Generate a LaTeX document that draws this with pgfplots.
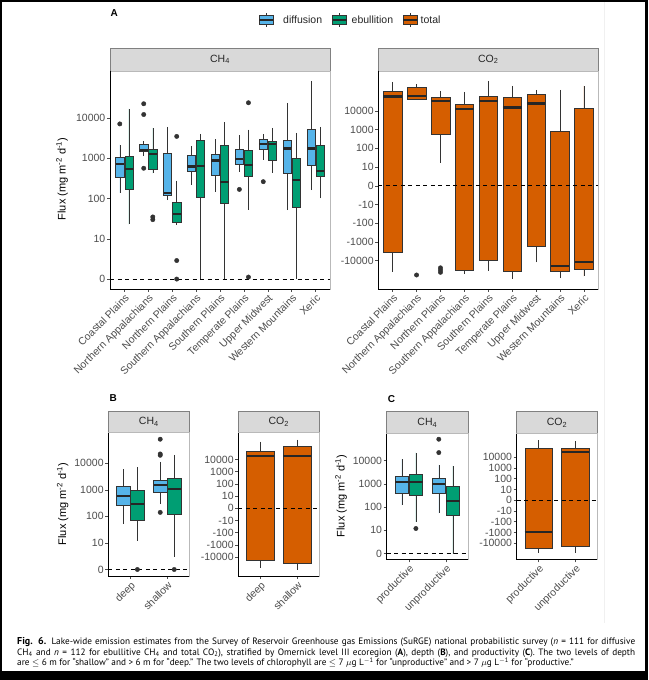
\documentclass[border=0pt]{standalone}
\usepackage{pgfplots}
\pgfplotsset{compat=1.18}
\usepgfplotslibrary{statistics}
\usepackage{fontspec}
\setmainfont{Liberation Sans}
\newfontfamily\capfont[Ligatures=TeX]{PT Sans}

\definecolor{diffc}{HTML}{56B4E9}
\definecolor{ebuc}{HTML}{009E73}
\definecolor{totc}{HTML}{D55E00}
\definecolor{tickc}{HTML}{4D4D4D}
\definecolor{boxc}{HTML}{333333}
\definecolor{stripf}{HTML}{D9D9D9}
\definecolor{stripd}{HTML}{808080}

\pgfplotsset{
  panel/.style={scale only axis, anchor=south west, axis line style={draw=none},
    tick align=outside, tick pos=left, major tick length=3pt,
    tick style={draw=tickc, line width=0.5pt},
    ticklabel style={font=\fontsize{10.5}{12}\selectfont, text=tickc},
    yticklabel style={inner sep=1.5pt},
    xticklabel style={rotate=45, anchor=north east, inner sep=1pt},
    clip=false},
  ch4y/.style={ytick={0,1,2,3,4}, yticklabels={0,10,100,1000,10000}},
  co2y/.style={ytick={-4,...,4},
    yticklabels={-10000,-1000,-100,-10,0,10,100,1000,10000}},
  bxs/.style={draw=boxc, fill=#1, line width=0.55pt, boxplot/draw direction=y,
    boxplot/whisker extend=0},
  outl/.style={only marks, mark=*, mark size=2.2pt, boxc},
  zero/.style={black, line width=0.8pt, dash pattern=on 4pt off 3.5pt}
}
% colour, position, width, lower whisker, q1, median, q3, upper whisker
\newcommand{\bx}[8]{\addplot[bxs=#1, boxplot prepared={draw position=#2,
  box extend=#3, lower whisker=#4, lower quartile=#5, median=#6,
  upper quartile=#7, upper whisker=#8}] coordinates {};
  \draw[line width=2.2pt, black!85] (axis cs:{#2-#3/2},#6) -- (axis cs:{#2+#3/2},#6);}
\newcommand{\frm}{%
  \draw[gray!55, line width=0.5pt] (rel axis cs:0,0) rectangle (rel axis cs:1,1);
  \draw[black, line width=0.9pt] (rel axis cs:0,1) -- (rel axis cs:0,0) -- (rel axis cs:1,0);}
\newcommand{\strip}[5]{%
  \draw[fill=stripf, draw=stripd, line width=0.6pt] (#1pt,#3pt) rectangle (#2pt,#4pt);
  \node[font=\fontsize{10.5}{12}\selectfont, text=black!85] at ({(#1pt+#2pt)/2},{(#3pt+#4pt)/2}) {#5};}
\newcommand{\fluxlab}{Flux (mg m\textsuperscript{-2} d\textsuperscript{-1})}
\newcommand{\key}[2]{%
  \draw[boxc, line width=0.5pt] (#1pt,653pt) -- (#1pt,667pt);
  \draw[boxc, fill=#2, line width=0.5pt] ({#1pt-7pt},655.5pt) rectangle ({#1pt+7pt},664.5pt);
  \draw[black!85, line width=1.6pt] ({#1pt-7pt},660pt) -- ({#1pt+7pt},660pt);}

\begin{document}
\begin{tikzpicture}
\useasboundingbox (0,0) rectangle (648pt,680pt);
\fill[black] (0,0) rectangle (648pt,680pt);
\fill[white] (2pt,9pt) rectangle (645pt,678pt);
\draw[black!6] (604.5pt,57pt) -- (604.5pt,678pt);

% panel labels and legend
\node[anchor=base west, font=\bfseries\fontsize{10}{12}\selectfont, inner sep=0] at (110.5pt,663.5pt) {A};
\node[anchor=base west, font=\bfseries\fontsize{10}{12}\selectfont, inner sep=0] at (109.5pt,278.3pt) {B};
\node[anchor=base west, font=\bfseries\fontsize{10}{12}\selectfont, inner sep=0] at (387.7pt,277.7pt) {C};
\key{266}{diffc}\key{339.5}{ebuc}\key{410}{totc}
\node[anchor=west, inner sep=0, font=\fontsize{10.5}{12}\selectfont, text=black!85] at (283pt,660pt) {diffusion};
\node[anchor=west, inner sep=0, font=\fontsize{10.5}{12}\selectfont, text=black!85] at (351.5pt,660pt) {ebullition};
\node[anchor=west, inner sep=0, font=\fontsize{10.5}{12}\selectfont, text=black!85] at (420.5pt,660pt) {total};

% strips
\strip{110}{330}{609}{632}{CH\textsubscript{4}}
\strip{378.3}{598.3}{609}{632}{CO\textsubscript{2}}
\strip{108.3}{189.3}{247.3}{269}{CH\textsubscript{4}}
\strip{238.3}{319.3}{247.3}{269}{CO\textsubscript{2}}
\strip{386.7}{468}{246.5}{268.3}{CH\textsubscript{4}}
\strip{516.7}{597.3}{246.5}{268.3}{CO\textsubscript{2}}

% y labels
\node[rotate=90, font=\fontsize{11}{13}\selectfont] at (62pt,501pt) {\fluxlab};
\node[rotate=90, font=\fontsize{11}{13}\selectfont] at (62.7pt,176pt) {\fluxlab};
\node[rotate=90, font=\fontsize{11}{13}\selectfont] at (341pt,184pt) {\fluxlab};

% ---------- A: CH4 by ecoregion ----------
\begin{axis}[panel, ch4y, at={(110pt,391pt)}, width=220pt, height=218pt,
  xmin=0.4, xmax=9.6, ymin=-0.246, ymax=5.163, xtick={1,...,9},
  xticklabels={Coastal Plains,Northern Appalachians,Northern Plains,Southern Appalachians,Southern Plains,Temperate Plains,Upper Midwest,Western Mountains,Xeric}]
\frm
\bx{diffc}{0.81}{0.34}{2.142}{2.517}{2.85}{3.025}{3.333}
\bx{ebuc}{1.19}{0.34}{1.358}{2.225}{2.725}{3.058}{4.225}
\bx{diffc}{1.81}{0.34}{3.042}{3.183}{3.208}{3.342}{3.417}
\bx{ebuc}{2.19}{0.34}{2.625}{2.725}{3.108}{3.225}{3.75}
\bx{diffc}{2.81}{0.34}{1.958}{2.067}{2.142}{3.125}{3.775}
\bx{ebuc}{3.19}{0.34}{1.35}{1.417}{1.608}{1.9}{2.442}
\bx{diffc}{3.81}{0.34}{2.333}{2.667}{2.792}{3.067}{3.308}
\bx{ebuc}{4.19}{0.34}{0}{2.042}{2.808}{3.433}{3.6}
\bx{diffc}{4.81}{0.34}{2.167}{2.583}{2.942}{3.1}{3.475}
\bx{ebuc}{5.19}{0.34}{0}{1.875}{2.4}{3.308}{3.892}
\bx{diffc}{5.81}{0.34}{2.667}{2.858}{2.983}{3.225}{3.567}
\bx{ebuc}{6.19}{0.34}{1.725}{2.542}{2.825}{3.208}{3.708}
\bx{diffc}{6.81}{0.34}{2.958}{3.225}{3.35}{3.458}{3.6}
\bx{ebuc}{7.19}{0.34}{2.642}{2.958}{3.358}{3.417}{3.75}
\bx{diffc}{7.81}{0.34}{1.708}{2.625}{3.242}{3.433}{4.375}
\bx{ebuc}{8.19}{0.34}{0}{1.775}{2.458}{3.008}{3.625}
\bx{diffc}{8.81}{0.34}{2.208}{2.833}{3.242}{3.725}{4.917}
\bx{ebuc}{9.19}{0.34}{2.0}{2.558}{2.683}{3.308}{3.775}
\addplot[outl] coordinates {(0.81,3.85) (1.81,4.35) (1.81,4.083) (1.81,2.75)
  (2.19,1.542) (2.19,1.475) (3.19,3.54) (3.19,0.46) (3.19,0) (5.81,2.225)
  (6.19,4.375) (6.19,0.05) (6.81,2.417)};
\addplot[zero] coordinates {(0.4,0) (9.6,0)};
\end{axis}

% ---------- A: CO2 by ecoregion ----------
\begin{axis}[panel, co2y, at={(378.3pt,391pt)}, width=220pt, height=218pt,
  xmin=0.4, xmax=9.6, ymin=-5.51, ymax=6.13, xtick={1,...,9},
  xticklabels={Coastal Plains,Northern Appalachians,Northern Plains,Southern Appalachians,Southern Plains,Temperate Plains,Upper Midwest,Western Mountains,Xeric}]
\frm
\bx{totc}{1}{0.78}{-4.587}{-3.556}{4.764}{5.067}{5.547}
\bx{totc}{2}{0.78}{4.622}{4.622}{4.8}{5.244}{5.422}
\bx{totc}{3}{0.78}{1.244}{2.756}{4.533}{4.747}{5.067}
\bx{totc}{4}{0.78}{-4.71}{-4.497}{4.089}{4.356}{5.013}
\bx{totc}{5}{0.78}{-4.53}{-4.0}{4.533}{4.8}{5.6}
\bx{totc}{6}{0.78}{-4.976}{-4.587}{4.178}{4.711}{5.333}
\bx{totc}{7}{0.78}{-4.09}{-3.236}{4.391}{4.889}{5.12}
\bx{totc}{8}{0.78}{-4.94}{-4.587}{-4.267}{2.898}{5.12}
\bx{totc}{9}{0.78}{-4.835}{-4.444}{-4.053}{4.124}{5.333}
\addplot[outl] coordinates {(2,-4.763) (3,-4.38) (3,-4.5) (3,-4.62)};
\addplot[zero] coordinates {(0.4,0) (9.6,0)};
\end{axis}

% ---------- B: CH4 by depth ----------
\begin{axis}[panel, ch4y, at={(108.3pt,104pt)}, width=81pt, height=143.3pt,
  xmin=0.4, xmax=2.6, ymin=-0.245, ymax=5.151, xtick={1,2},
  xticklabels={deep,shallow}]
\frm
\bx{diffc}{0.81}{0.36}{1.711}{2.428}{2.767}{3.119}{3.774}
\bx{ebuc}{1.19}{0.36}{1.082}{1.862}{2.453}{2.994}{3.849}
\bx{diffc}{1.81}{0.36}{2.465}{2.906}{3.182}{3.371}{4.063}
\bx{ebuc}{2.19}{0.36}{0.478}{2.088}{3.031}{3.421}{4.314}
\addplot[zero] coordinates {(0.4,0) (2.6,0)};
\addplot[outl] coordinates {(1.19,0) (1.81,4.906) (1.81,4.35) (1.81,4.30)
  (1.81,2.15) (2.19,0)};
\end{axis}

% ---------- B: CO2 by depth ----------
\begin{axis}[panel, co2y, at={(238.3pt,104pt)}, width=81pt, height=143.3pt,
  xmin=0.4, xmax=2.6, ymin=-5.55, ymax=6.2, xtick={1,2},
  xticklabels={deep,shallow}]
\frm
\bx{totc}{1}{0.75}{-4.89}{-4.29}{4.317}{4.672}{5.464}
\bx{totc}{2}{0.75}{-5.03}{-4.48}{4.317}{5.082}{5.628}
\addplot[zero] coordinates {(0.4,0) (2.6,0)};
\end{axis}

% ---------- C: CH4 by productivity ----------
\begin{axis}[panel, ch4y, at={(386.7pt,120.7pt)}, width=81.3pt, height=125.8pt,
  xmin=0.4, xmax=2.6, ymin=-0.246, ymax=5.166, xtick={1,2},
  xticklabels={productive,unproductive}]
\frm
\bx{diffc}{0.81}{0.36}{2.086}{2.59}{3.065}{3.309}{4.058}
\bx{ebuc}{1.19}{0.36}{1.367}{2.489}{3.094}{3.41}{4.345}
\bx{diffc}{1.81}{0.36}{1.727}{2.59}{2.978}{3.223}{3.813}
\bx{ebuc}{2.19}{0.36}{0}{1.655}{2.273}{2.878}{3.77}
\addplot[outl] coordinates {(1.19,1.079) (1.81,4.92) (1.81,4.345)};
\addplot[zero] coordinates {(0.4,0) (2.6,0)};
\end{axis}

% ---------- C: CO2 by productivity ----------
\begin{axis}[panel, co2y, at={(516.7pt,120.7pt)}, width=80.6pt, height=125.8pt,
  xmin=0.4, xmax=2.6, ymin=-5.5, ymax=6.2, xtick={1,2},
  xticklabels={productive,unproductive}]
\frm
\bx{totc}{1}{0.75}{-4.89}{-4.486}{-2.928}{4.86}{5.576}
\bx{totc}{2}{0.75}{-4.89}{-4.268}{4.486}{4.798}{5.483}
\addplot[zero] coordinates {(0.4,0) (2.6,0)};
\end{axis}

% caption
\node[anchor=north west, inner sep=0, align=left,
  font=\capfont\fontsize{9.25}{10.8}\selectfont] at (17pt,43pt) {%
\hbox to 618pt{{\bfseries\fontsize{10}{10.8}\selectfont Fig. 6.} Lake-wide emission estimates from the Survey of Reservoir Greenhouse gas Emissions (SuRGE) national probabilistic survey (\textit{n} = 111 for diffusive}\\
\hbox to 618pt{CH\textsubscript{4} and \textit{n} = 112 for ebullitive CH\textsubscript{4} and total CO\textsubscript{2}), stratified by Omernick level III ecoregion (\textbf{A}), depth (\textbf{B}), and productivity (\textbf{C}). The two levels of depth}\\
are $\leq$ 6 m for “shallow” and > 6 m for “deep.” The two levels of chlorophyll are $\leq$ 7 $\mu$g L\textsuperscript{$-$1} for “unproductive” and > 7 $\mu$g L\textsuperscript{$-$1} for “productive.”};
\end{tikzpicture}
\end{document}
